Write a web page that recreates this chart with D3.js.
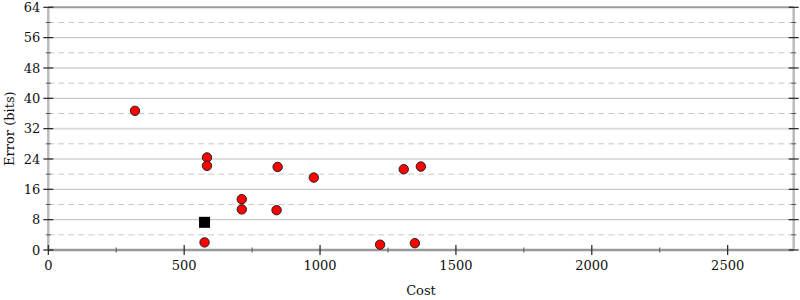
<!DOCTYPE html>
<html>
<head>
<meta charset="utf-8">
<script src="https://cdn.jsdelivr.net/npm/d3@7"></script>
<style>
  body { margin: 0; background: #fff; }
  svg { display: block; font-family: "DejaVu Serif", serif; }
</style>
</head>
<body>
<svg width="800" height="300"></svg>
<script>
'use strict';

// measured points (cost, error bits)
var circleCost  = [319, 584, 584, 575, 712, 712, 844, 840, 977, 1221, 1349, 1308, 1371];
var circleError = [36.7, 24.4, 22.2, 2.0, 13.4, 10.7, 21.9, 10.5, 19.1, 1.4, 1.8, 21.3, 22.0];
var squareCost  = [575];
var squareError = [7.3];

var xTicks = [0, 500, 1000, 1500, 2000, 2500];
var yTicks = [0, 8, 16, 24, 32, 40, 48, 56, 64];

var svg = d3.select('svg');
var plotLeft = 48.3, plotRight = 793.7, plotTop = 7.3, plotBottom = 250;

var x = d3.scaleLinear().domain([0, 2743]).range([plotLeft, plotRight]);
var y = d3.scaleLinear().domain([0, 64]).range([plotBottom, plotTop]);

var minorY = d3.range(4, 64, 8);
var minorX = d3.range(250, 2743, 500);

// grid
svg.append('g').selectAll('line')
  .data(minorY).enter().append('line')
    .attr('x1', plotLeft).attr('x2', plotRight)
    .attr('y1', d => y(d)).attr('y2', d => y(d))
    .attr('stroke', '#c8c8c8').attr('stroke-dasharray', '6,4');

svg.append('g').selectAll('line')
  .data(yTicks.filter(d => d > 0 && d < 64)).enter().append('line')
    .attr('x1', plotLeft).attr('x2', plotRight)
    .attr('y1', d => y(d)).attr('y2', d => y(d))
    .attr('stroke', d => d === 32 ? '#dcdcdc' : '#bdbdbd')
    .attr('stroke-width', d => d === 32 ? 2 : 1);

// frame
svg.append('line').attr('x1', plotLeft).attr('x2', plotRight).attr('y1', y(64)).attr('y2', y(64))
  .attr('stroke', '#999').attr('stroke-width', 2);
svg.append('line').attr('x1', plotLeft).attr('x2', plotLeft).attr('y1', plotTop).attr('y2', plotBottom)
  .attr('stroke', '#bbb').attr('stroke-width', 2.5);
svg.append('line').attr('x1', plotRight).attr('x2', plotRight).attr('y1', plotTop).attr('y2', plotBottom)
  .attr('stroke', '#bbb').attr('stroke-width', 2.5);
svg.append('line').attr('x1', plotLeft).attr('x2', plotRight).attr('y1', plotBottom).attr('y2', plotBottom)
  .attr('stroke', '#999').attr('stroke-width', 2.5);

// y ticks on both sides
[plotLeft, plotRight].forEach(function (ax) {
  svg.append('g').selectAll('line')
    .data(yTicks).enter().append('line')
      .attr('x1', ax - 5).attr('x2', ax + 5)
      .attr('y1', d => y(d)).attr('y2', d => y(d))
      .attr('stroke', '#222').attr('stroke-width', 1.2);
  svg.append('g').selectAll('line')
    .data(minorY).enter().append('line')
      .attr('x1', ax - 2.5).attr('x2', ax + 2.5)
      .attr('y1', d => y(d)).attr('y2', d => y(d))
      .attr('stroke', '#555').attr('stroke-width', 1);
});

// x ticks
svg.append('g').selectAll('line')
  .data(xTicks).enter().append('line')
    .attr('x1', d => x(d)).attr('x2', d => x(d))
    .attr('y1', plotBottom - 5).attr('y2', plotBottom + 5)
    .attr('stroke', '#222').attr('stroke-width', 1.2);
svg.append('g').selectAll('line')
  .data(minorX).enter().append('line')
    .attr('x1', d => x(d)).attr('x2', d => x(d))
    .attr('y1', plotBottom - 2.5).attr('y2', plotBottom + 2.5)
    .attr('stroke', '#555').attr('stroke-width', 1);

// tick labels
svg.append('g').selectAll('text')
  .data(yTicks).enter().append('text')
    .attr('x', plotLeft - 8).attr('y', d => y(d))
    .attr('dy', '0.35em').attr('text-anchor', 'end')
    .attr('font-size', 13).attr('fill', '#111')
    .text(d => d);
svg.append('g').selectAll('text')
  .data(xTicks).enter().append('text')
    .attr('x', d => x(d)).attr('y', plotBottom + 20)
    .attr('text-anchor', 'middle')
    .attr('font-size', 13).attr('fill', '#111')
    .text(d => d);

// axis titles
svg.append('text').attr('x', (plotLeft + plotRight) / 2).attr('y', 295)
  .attr('text-anchor', 'middle').attr('font-size', 13).attr('fill', '#111').text('Cost');
svg.append('text').attr('transform', 'translate(14,' + ((plotTop + plotBottom) / 2) + ') rotate(-90)')
  .attr('text-anchor', 'middle').attr('font-size', 13).attr('fill', '#111').text('Error (bits)');

// points
svg.append('g').selectAll('circle')
  .data(d3.zip(circleCost, circleError)).enter().append('circle')
    .attr('cx', d => x(d[0])).attr('cy', d => y(d[1]))
    .attr('r', 4.7)
    .attr('fill', '#ff0000').attr('stroke', '#222').attr('stroke-width', 1);

svg.append('g').selectAll('rect')
  .data(d3.zip(squareCost, squareError)).enter().append('rect')
    .attr('x', d => x(d[0]) - 5.5).attr('y', d => y(d[1]) - 5.5)
    .attr('width', 11).attr('height', 11)
    .attr('fill', '#000');
</script>
</body>
</html>
